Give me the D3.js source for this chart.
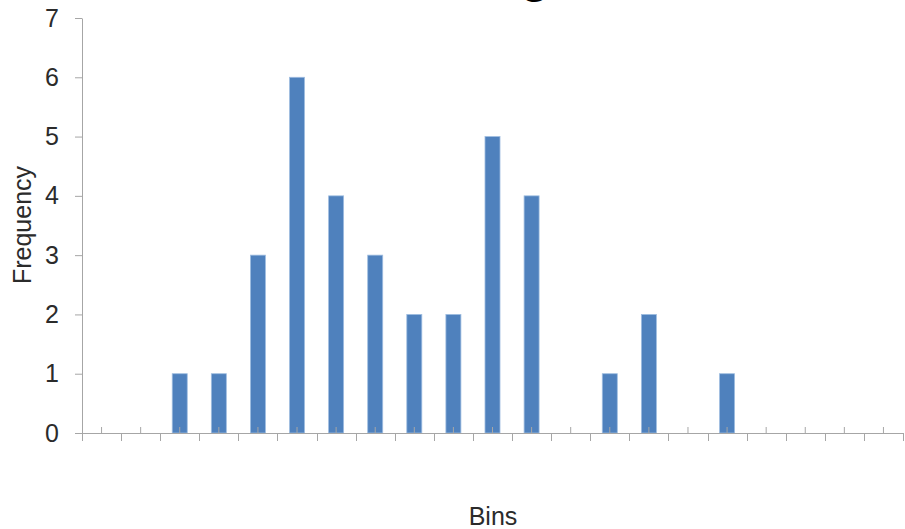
<!DOCTYPE html>
<html>
<head>
<meta charset="utf-8">
<script src="https://cdn.jsdelivr.net/npm/d3@7"></script>
<style>
  html, body { margin: 0; padding: 0; background: #fff; }
  svg { display: block; }
  text { font-family: "Liberation Sans", Arial, sans-serif; }
</style>
</head>
<body>
<svg id="chart" width="905" height="529"></svg>
<script>
// Histogram data: one entry per bin
const bins = ["1","2","3","4","5","6","7","8","9","10","11","12","13","14","15","16","17","18","19","20","21"];
const frequency = [0, 0, 1, 1, 3, 6, 4, 3, 2, 2, 5, 4, 0, 1, 2, 0, 1, 0, 0, 0, 0];
const yTicks = [0, 1, 2, 3, 4, 5, 6, 7];

const title = "Histogram";
const xTitle = "Bins";
const yTitle = "Frequency";

const plot = { left: 82, right: 903, top: 18, bottom: 433 };
const axisColor = "#a6a6a6";
const textColor = "#2b2b2b";
const barColor = "#4f81bd";
const fontSize = 25;

const svg = d3.select("#chart");

const x = d3.scaleBand()
  .domain(bins)
  .range([plot.left, plot.right])
  .paddingInner(0.616)
  .paddingOuter(0.308);

const y = d3.scaleLinear()
  .domain([0, 7])
  .range([plot.bottom, plot.top]);

// Chart title (sits mostly above the visible area)
svg.append("text")
  .attr("x", 519)
  .attr("y", -8)
  .attr("text-anchor", "middle")
  .attr("font-size", 48)
  .attr("font-weight", "bold")
  .attr("fill", "#000")
  .text(title);

// Bars
svg.append("g")
  .selectAll("rect")
  .data(bins.map((b, i) => ({ bin: b, value: frequency[i] })).filter(d => d.value > 0))
  .join("rect")
  .attr("x", d => x(d.bin))
  .attr("width", x.bandwidth())
  .attr("y", d => y(d.value))
  .attr("height", d => y(0) - y(d.value))
  .attr("fill", barColor)
  .attr("stroke", "#9fbde0")
  .attr("stroke-width", 0.8);

// Y axis
const yAxis = svg.append("g")
  .attr("transform", `translate(${plot.left},0)`)
  .call(d3.axisLeft(y).tickValues(yTicks).tickFormat(d3.format("d")).tickSizeInner(7).tickSizeOuter(0).tickPadding(16));
yAxis.select(".domain").attr("stroke", axisColor);
yAxis.selectAll(".tick line").attr("stroke", axisColor);
yAxis.selectAll(".tick text")
  .attr("fill", textColor)
  .attr("font-size", fontSize)
  .attr("font-family", "'Liberation Sans', Arial, sans-serif");

// X axis: tick marks at bin centres point up, bin boundaries point down
const xAxis = svg.append("g")
  .attr("transform", `translate(0,${plot.bottom})`)
  .call(d3.axisBottom(x).tickSizeInner(-6).tickSizeOuter(0).tickFormat(""));
xAxis.select(".domain").attr("stroke", axisColor).attr("d", `M${plot.left - 7},0.5H${plot.right}`);
xAxis.selectAll(".tick line").attr("stroke", axisColor);

const step = x.step();
const boundaries = d3.range(bins.length + 1).map(i => plot.left + i * step);
xAxis.append("g")
  .selectAll("line")
  .data(boundaries)
  .join("line")
  .attr("x1", d => Math.round(d) + 0.5)
  .attr("x2", d => Math.round(d) + 0.5)
  .attr("y1", 0)
  .attr("y2", 8)
  .attr("stroke", axisColor);

// Axis titles
svg.append("text")
  .attr("x", 493)
  .attr("y", 525)
  .attr("text-anchor", "middle")
  .attr("font-size", fontSize)
  .attr("fill", textColor)
  .text(xTitle);

svg.append("text")
  .attr("transform", "translate(31,225) rotate(-90)")
  .attr("text-anchor", "middle")
  .attr("font-size", fontSize)
  .attr("fill", textColor)
  .text(yTitle);
</script>
</body>
</html>
